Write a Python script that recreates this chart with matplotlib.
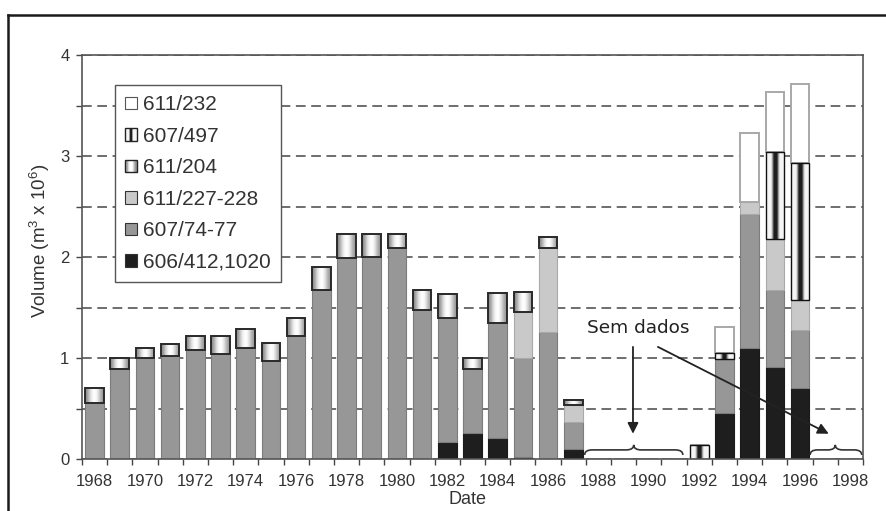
import numpy as np
import matplotlib
matplotlib.use("Agg")
import matplotlib.pyplot as plt
from matplotlib.patches import Patch, Rectangle, PathPatch
from matplotlib.path import Path
from matplotlib.legend_handler import HandlerBase
from matplotlib.lines import Line2D

# anos (eixo de categorias)
years = list(range(1968, 1999))
tick_years = list(range(1968, 1999, 2))

# volumes (m3 x 10^6) por captacao, de baixo para cima
s606_412 = [0] * 14 + [0.17, 0.26, 0.205, 0.02, 0, 0.096, 0, 0, 0, 0, 0,
                       0.46, 1.10, 0.91, 0.70, 0, 0]
s607_74 = [0.557, 0.89, 1.0, 1.02, 1.077, 1.04, 1.1, 0.97, 1.22, 1.67,
           1.99, 2.0, 2.09, 1.48, 1.23, 0.63, 1.145, 0.98, 1.26, 0.274,
           0, 0, 0, 0, 0, 0.53, 1.33, 0.76, 0.58, 0, 0]
s611_227 = [0] * 17 + [0.46, 0.83, 0.165, 0, 0, 0, 0, 0, 0,
                       0.11, 0.51, 0.295, 0, 0]
s611_204 = [0.15, 0.11, 0.10, 0.12, 0.143, 0.18, 0.19, 0.18, 0.18, 0.23,
            0.24, 0.23, 0.14, 0.19, 0.233, 0.11, 0.29, 0.19, 0.11, 0.045,
            0, 0, 0, 0, 0, 0, 0, 0, 0, 0, 0]
s607_497 = [0] * 24 + [0.14, 0.06, 0, 0.86, 1.356, 0, 0]
s611_232 = [0] * 25 + [0.26, 0.69, 0.59, 0.78, 0, 0]

labels = ["606/412,1020", "607/74-77", "611/227-228", "611/204", "607/497", "611/232"]

# anotacao "Sem dados" (inicio, meio, fim das chavetas)
gap_start = [1987.45, 1996.4]
gap_mid = [1989.4, 1997.4]
gap_end = [1991.35, 1998.45]

# perfis de cinzento para as barras com gradiente
prof_204 = [0.55, 0.68, 0.85, 0.96, 1.0, 0.96, 0.84, 0.7, 0.6]
prof_497 = [0.96, 0.96, 0.96, 0.96, 0.6, 0.12, 0.12, 0.12, 0.6, 0.96, 0.96, 0.96, 0.96]

plt.rcParams["font.family"] = ["Liberation Sans"]
plt.rcParams["mathtext.fontset"] = "custom"
plt.rcParams["mathtext.rm"] = "Liberation Sans"
plt.rcParams["lines.scale_dashes"] = False
narrow = ["Liberation Sans Narrow", "Liberation Sans"]

fig = plt.figure(figsize=(8.87, 5.11), dpi=100)
ax = fig.add_axes([82 / 887, 52 / 511, 781 / 887, 404 / 511])

width = 0.74
bottom = np.zeros(len(years))

styles = [
    dict(kind="solid", fc="#1e1e1e", ec="#1a1a1a", lw=0.8),
    dict(kind="solid", fc="#979797", ec="#7c7c7c", lw=0.8),
    dict(kind="solid", fc="#c9c9c9", ec="#a9a9a9", lw=0.8),
    dict(kind="grad", prof=prof_204, ec="#2a2a2a", lw=1.4),
    dict(kind="grad", prof=prof_497, ec="#111111", lw=1.0),
    dict(kind="solid", fc="white", ec="#a8a8a8", lw=1.4),
]
series = [s606_412, s607_74, s611_227, s611_204, s607_497, s611_232]

for vals, st in zip(series, styles):
    vals = np.array(vals, dtype=float)
    if st["kind"] == "solid":
        ax.bar(years, vals, width, bottom=bottom, color=st["fc"],
               edgecolor=st["ec"], linewidth=st["lw"], zorder=2)
    else:
        grad = np.array([st["prof"]])
        for x, b, v in zip(years, bottom, vals):
            if v <= 0:
                continue
            ax.imshow(grad, cmap="gray", vmin=0, vmax=1, aspect="auto",
                      interpolation="bilinear", zorder=2,
                      extent=(x - width / 2, x + width / 2, b, b + v))
        mask = vals > 0
        ax.bar(np.array(years)[mask], vals[mask], width, bottom=bottom[mask],
               facecolor="none", edgecolor=st["ec"], linewidth=st["lw"], zorder=3)
    bottom = bottom + vals

ax.set_xlim(1967.5, 1998.5)
ax.set_ylim(0, 4)

# eixos
ax.set_xticks(tick_years)
ax.set_xticklabels([str(y) for y in tick_years], family=narrow, fontsize=12, color="#333333")
ax.set_xticks(np.arange(1967.5, 1999, 1.0), minor=True)
ax.tick_params(axis="x", which="major", length=0, pad=11)
ax.tick_params(axis="x", which="minor", length=4, width=1.0, color="#444444", direction="out")

yt = np.arange(0, 4.01, 0.5)
ax.set_yticks(yt)
ax.set_yticklabels([str(int(v)) if v == int(v) else "" for v in yt],
                   family=narrow, fontsize=12, color="#333333")
ax.tick_params(axis="y", length=4, width=1.0, color="#444444", pad=5)

ax.grid(axis="y", linestyle=(0, (7, 4)), color="#555555", linewidth=1.2, zorder=0)
ax.set_axisbelow(True)
for s in ax.spines.values():
    s.set_color("#555555")
    s.set_linewidth(1.2)
    s.set_zorder(4)

ax.set_xlabel("Date", fontsize=13, color="#333333")
ax.xaxis.set_label_coords(0.494, -0.08)
ax.set_ylabel("Volume (m$^3$ x 10$^6$)", fontsize=13.5, color="#333333")
ax.yaxis.set_label_coords(-0.038, 0.54)


# legenda com padroes
class StripeHandler(HandlerBase):
    def __init__(self, prof, ec):
        super().__init__()
        self.prof = prof
        self.ec = ec

    def create_artists(self, legend, orig_handle, xdescent, ydescent,
                       width, height, fontsize, trans):
        n = len(self.prof)
        arts = []
        for i, g in enumerate(self.prof):
            arts.append(Rectangle((-xdescent + i * width / n, -ydescent), width / n, height,
                                  facecolor=str(g), edgecolor="none", transform=trans))
        arts.append(Rectangle((-xdescent, -ydescent), width, height, fill=False,
                              edgecolor=self.ec, linewidth=1.0, transform=trans))
        return arts


handles = []
hmap = {}
for lab, st in zip(labels, styles):
    if st["kind"] == "solid":
        h = Patch(facecolor=st["fc"], edgecolor="#333333" if st["fc"] != "white" else "#555555",
                  linewidth=0.8, label=lab)
    else:
        h = Patch(label=lab)
        hmap[h] = StripeHandler(st["prof"], "#222222")
    handles.append(h)

leg = ax.legend(handles[::-1], labels[::-1], handler_map=hmap,
                loc="upper left", bbox_to_anchor=(0.042, 0.926),
                fontsize=15, frameon=True, fancybox=False, framealpha=1,
                edgecolor="#555555", handlelength=0.55, handleheight=0.55,
                handletextpad=0.3, labelspacing=0.6, borderpad=0.5,
                borderaxespad=0)
leg.get_frame().set_linewidth(1.0)
for t in leg.get_texts():
    t.set_color("#333333")
leg.set_zorder(5)


# chavetas e setas "Sem dados"
def brace(x0, xc, x1, y0=0.04, ym=0.09, y1=0.14, r=0.3):
    verts = [(x0, y0), (x0, ym), (x0 + r, ym), (xc - r, ym),
             (xc, ym), (xc, y1), (xc, ym), (xc + r, ym),
             (x1 - r, ym), (x1, ym), (x1, y0)]
    codes = [Path.MOVETO, Path.CURVE3, Path.CURVE3, Path.LINETO,
             Path.CURVE3, Path.CURVE3, Path.CURVE3, Path.CURVE3,
             Path.LINETO, Path.CURVE3, Path.CURVE3]
    ax.add_patch(PathPatch(Path(verts, codes), fill=False, edgecolor="#333333",
                           linewidth=1.2, zorder=3))


for a, m, b in zip(gap_start, gap_mid, gap_end):
    brace(a, m, b)

ax.text(1989.56, 1.30, "Sem dados", family="DejaVu Sans", fontsize=13.3,
        color="#222222", ha="center", va="center", zorder=4,
        bbox=dict(facecolor="white", edgecolor="none", pad=4))
arrow = dict(arrowstyle="-|>", color="#222222", lw=1.3, mutation_scale=16,
             shrinkA=0, shrinkB=0)
ax.annotate("", xy=(1989.37, 0.25), xytext=(1989.37, 1.11), arrowprops=arrow, zorder=4)
ax.annotate("", xy=(1997.14, 0.25), xytext=(1990.36, 1.11), arrowprops=arrow, zorder=4)

# moldura exterior (cortada a direita e em baixo)
fig.add_artist(Line2D([8 / 887, 1.0], [1 - 15 / 511] * 2, transform=fig.transFigure,
                      color="#1a1a1a", linewidth=1.8))
fig.add_artist(Line2D([8 / 887] * 2, [0, 1 - 15 / 511], transform=fig.transFigure,
                      color="#1a1a1a", linewidth=1.8))

fig.savefig("out.png", dpi=100)
